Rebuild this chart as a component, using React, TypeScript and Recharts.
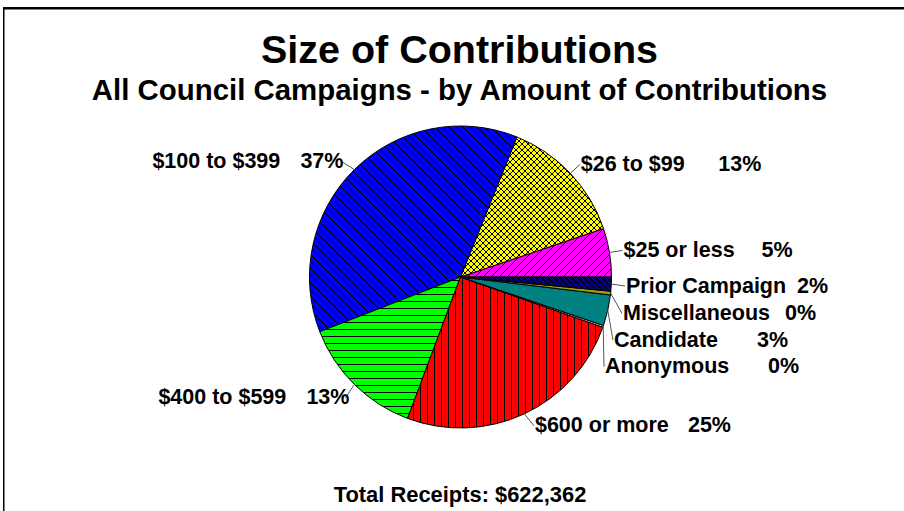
import React from 'react';
import { PieChart, Pie, Cell } from 'recharts';

const categories = [
  '$25 or less',
  '$26 to $99',
  '$100 to $399',
  '$400 to $599',
  '$600 or more',
  'Anonymous',
  'Candidate',
  'Miscellaneous',
  'Prior Campaign',
];
// share of total receipts, %
const shares = [5.2, 13.7, 37.0, 13.4, 25.3, 0.2, 3.3, 0.4, 1.5];
const printedPct = ['5%', '13%', '37%', '13%', '25%', '0%', '3%', '0%', '2%'];

const data = categories.map((name, i) => ({ name, value: shares[i] }));

const fills = [
  'url(#hatchMagenta)',
  'url(#hatchYellow)',
  'url(#hatchBlue)',
  'url(#hatchGreen)',
  'url(#hatchRed)',
  '#C0C0C0',
  '#008080',
  '#A0A000',
  'url(#hatchNavy)',
];

// where each label sits, relative to the slice's outer midpoint
const labelPos = [
  { dx: 13, dy: -2, nameX: 1, pctX: 139 },
  { dx: 10, dy: -9, nameX: 0.5, pctX: 138 },
  { dx: -13, dy: -8, nameX: -189, pctX: -41 },
  { dx: -9, dy: 13.5, nameX: -187, pctX: -39 },
  { dx: 9.6, dy: 12, nameX: 1, pctX: 154 },
  { dx: 0.8, dy: 40.4, nameX: 1, pctX: 164 },
  { dx: 5.2, dy: 29.6, nameX: 1, pctX: 144 },
  { dx: 11.4, dy: 20.4, nameX: 1, pctX: 163 },
  { dx: 13.7, dy: 1.9, nameX: 1, pctX: 172 },
];

const FONT = '"Liberation Sans", Arial, sans-serif';
const RAD = Math.PI / 180;

const renderLabel = (props: any) => {
  const { cx, cy, midAngle, outerRadius, index } = props;
  const ex = Number(cx) + outerRadius * Math.cos(-midAngle * RAD);
  const ey = Number(cy) + outerRadius * Math.sin(-midAngle * RAD);
  const p = labelPos[index];
  const px = ex + p.dx;
  const py = ey + p.dy;
  const base = py + 6.5;
  return (
    <g key={`lbl-${index}`}>
      <line x1={ex} y1={ey} x2={px} y2={py} stroke="#555" strokeWidth={1} />
      <text x={px + p.nameX} y={base} fontFamily={FONT} fontWeight="bold" fontSize={21.5} fill="#000">
        {categories[index]}
      </text>
      <text x={px + p.pctX} y={base} fontFamily={FONT} fontWeight="bold" fontSize={21.5} fill="#000">
        {printedPct[index]}
      </text>
    </g>
  );
};

function Patterns() {
  return (
    <svg width={0} height={0} style={{ position: 'absolute' }}>
      <defs>
        <pattern id="hatchBlue" patternUnits="userSpaceOnUse" width={7} height={7}>
          <rect width={7} height={7} fill="#0000FF" />
          <path d="M0,0 L7,7 M-1,6 L1,8 M6,-1 L8,1" stroke="#000" strokeWidth={1} />
        </pattern>
        <pattern id="hatchNavy" patternUnits="userSpaceOnUse" width={6} height={6}>
          <rect width={6} height={6} fill="#000080" />
          <path d="M0,0 L6,6 M-1,5 L1,7 M5,-1 L7,1" stroke="#000" strokeWidth={1} />
        </pattern>
        <pattern id="hatchMagenta" patternUnits="userSpaceOnUse" width={8} height={8}>
          <rect width={8} height={8} fill="#FF00FF" />
          <path d="M0,8 L8,0 M-1,1 L1,-1 M7,9 L9,7" stroke="#000" strokeWidth={1} />
        </pattern>
        <pattern id="hatchYellow" patternUnits="userSpaceOnUse" width={6} height={6}>
          <rect width={6} height={6} fill="#FFFF00" />
          <path
            d="M0,0 L6,6 M-1,5 L1,7 M5,-1 L7,1 M0,6 L6,0 M-1,1 L1,-1 M5,7 L7,5"
            stroke="#000"
            strokeWidth={1}
          />
        </pattern>
        <pattern id="hatchGreen" patternUnits="userSpaceOnUse" width={7} height={7}>
          <rect width={7} height={7} fill="#00FF00" />
          <path d="M0,0.5 L7,0.5" stroke="#000" strokeWidth={1} />
        </pattern>
        <pattern id="hatchRed" patternUnits="userSpaceOnUse" width={7} height={7}>
          <rect width={7} height={7} fill="#FF0000" />
          <path d="M0.5,0 L0.5,7" stroke="#000" strokeWidth={1} />
        </pattern>
      </defs>
    </svg>
  );
}

export default function App() {
  return (
    <div style={{ position: 'absolute', left: 0, top: 0, width: 904, height: 511, background: '#fff' }}>
      <Patterns />
      <PieChart width={904} height={511} margin={{ top: 0, right: 0, bottom: 0, left: 0 }}>
        <Pie
          data={data}
          dataKey="value"
          nameKey="name"
          cx={460.5}
          cy={277}
          outerRadius={151}
          startAngle={0}
          endAngle={360}
          stroke="#000"
          strokeWidth={1}
          label={renderLabel}
          labelLine={false}
          isAnimationActive={false}
        >
          {data.map((d, i) => (
            <Cell key={d.name} fill={fills[i]} />
          ))}
        </Pie>
      </PieChart>
      <svg
        width={904}
        height={511}
        style={{ position: 'absolute', left: 0, top: 0, pointerEvents: 'none' }}
      >
        <rect x={3} y={7} width={901} height={2.5} fill="#000" />
        <rect x={3} y={7} width={1.5} height={504} fill="#000" />
        <text x={459.5} y={63} textAnchor="middle" fontFamily={FONT} fontWeight="bold" fontSize={39.5}>
          Size of Contributions
        </text>
        <text x={459.5} y={100} textAnchor="middle" fontFamily={FONT} fontWeight="bold" fontSize={29.4}>
          All Council Campaigns - by Amount of Contributions
        </text>
        <text x={460} y={502} textAnchor="middle" fontFamily={FONT} fontWeight="bold" fontSize={21.9}>
          Total Receipts: $622,362
        </text>
      </svg>
    </div>
  );
}
